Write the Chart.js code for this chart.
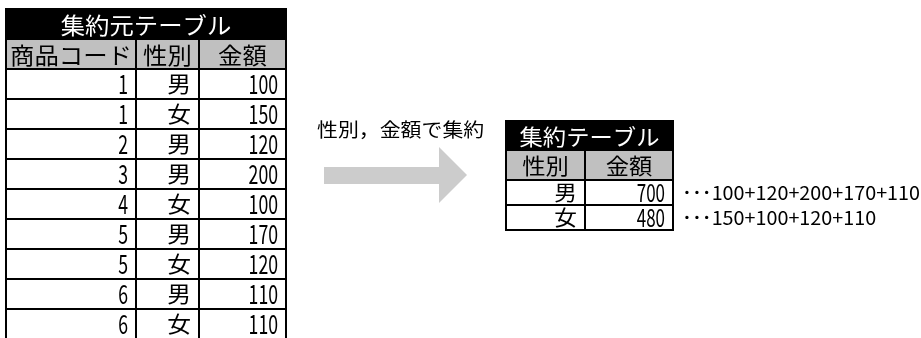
<!DOCTYPE html>
<html>
<head>
<meta charset="utf-8">
<script src="https://cdn.jsdelivr.net/npm/chart.js@4.4.1/dist/chart.umd.min.js"></script>
<style>
  html, body { margin: 0; padding: 0; background: #ffffff; }
  canvas { display: block; }
</style>
</head>
<body>
<canvas id="summary_chart" width="921" height="338"></canvas>
<script>
// source table
const source_title = '集約元テーブル';
const source_headers = ['商品コード', '性別', '金額'];
const product_codes = [1, 1, 2, 3, 4, 5, 5, 6, 6];
const genders = ['男', '女', '男', '男', '女', '男', '女', '男', '女'];
const amounts = [100, 150, 120, 200, 100, 170, 120, 110, 110];

// summary table
const summary_title = '集約テーブル';
const summary_headers = ['性別', '金額'];
const summary_genders = ['男', '女'];
const summary_totals = [700, 480];

const arrow_label = '性別，金額で集約';

const font_family = '"Noto Sans CJK JP", "Noto Sans", sans-serif';

function draw_text(ctx, text, x, y, size, align, scale_x) {
	ctx.save();
	ctx.font = size + 'px ' + font_family;
	ctx.textBaseline = 'middle';
	ctx.translate(x, y);
	ctx.scale(scale_x, 1);
	const w = ctx.measureText(text).width;
	let dx = 0;
	if (align === 'right') dx = -w;
	if (align === 'center') dx = -w / 2;
	ctx.fillText(text, dx, 0);
	ctx.restore();
}

// digits in the reference are tall and narrow, CJK glyphs are slightly wide
function cell_text(ctx, text, x, y, align, cjk_size) {
	const s = String(text);
	if (/^[0-9]+$/.test(s)) {
		draw_text(ctx, s, x, y, cjk_size + 4, align, 0.68);
	} else {
		draw_text(ctx, s, x, y, cjk_size, align, 1.08);
	}
}

function draw_table(ctx, sx, sy, cols, rows, title, headers, body, size) {
	const X = v => sx.getPixelForValue(v);
	const Y = v => sy.getPixelForValue(v);
	const left = X(cols[0]), right = X(cols[cols.length - 1]);
	const top = Y(rows[0]), bottom = Y(rows[rows.length - 1]);

	// title bar
	ctx.fillStyle = '#000000';
	ctx.fillRect(left, top, right - left, Y(rows[1]) - top);
	// header row
	ctx.fillStyle = '#c0c0c0';
	ctx.fillRect(left, Y(rows[1]), right - left, Y(rows[2]) - Y(rows[1]));

	// grid
	ctx.strokeStyle = '#000000';
	ctx.lineWidth = 2;
	ctx.beginPath();
	for (let r = 1; r < rows.length; r++) {
		ctx.moveTo(left, Y(rows[r]));
		ctx.lineTo(right, Y(rows[r]));
	}
	for (let c = 1; c < cols.length - 1; c++) {
		ctx.moveTo(X(cols[c]), Y(rows[1]));
		ctx.lineTo(X(cols[c]), bottom);
	}
	ctx.rect(left, top, right - left, bottom - top);
	ctx.stroke();

	// texts
	ctx.fillStyle = '#ffffff';
	draw_text(ctx, title, (left + right) / 2, (top + Y(rows[1])) / 2 + 1, size, 'center', 1.06);
	ctx.fillStyle = '#000000';
	headers.forEach((h, c) => {
		const cx = (X(cols[c]) + X(cols[c + 1])) / 2;
		draw_text(ctx, h, cx, (Y(rows[1]) + Y(rows[2])) / 2 + 1, size, 'center', 1.06);
	});
	body.forEach((row, r) => {
		const cy = (Y(rows[r + 2]) + Y(rows[r + 3])) / 2;
		row.forEach((v, c) => {
			cell_text(ctx, v, X(cols[c + 1]) - 8, cy, 'right', size - 1);
		});
	});
}

const table_plugin = {
	id: 'table_plugin',
	afterDraw(chart) {
		const ctx = chart.ctx;
		const sx = chart.scales.x, sy = chart.scales.y;
		const X = v => sx.getPixelForValue(v);
		const Y = v => sy.getPixelForValue(v);

		// source table, its last row runs past the bottom edge
		const src_rows = [9];
		for (let i = 0; i < product_codes.length + 2; i++) src_rows.push(src_rows[i] + 30);
		const src_body = product_codes.map((code, i) => [code, genders[i], amounts[i]]);
		draw_table(ctx, sx, sy, [6, 136, 199, 286], src_rows, source_title, source_headers, src_body, 23);

		// summary table
		const sum_body = summary_genders.map((g, i) => [g, summary_totals[i]]);
		draw_table(ctx, sx, sy, [506, 585, 673], [121, 150, 180, 205, 230], summary_title, summary_headers, sum_body, 22);

		// breakdown notes, built from the source values
		ctx.fillStyle = '#000000';
		summary_genders.forEach((g, i) => {
			const parts = amounts.filter((a, k) => genders[k] === g);
			draw_text(ctx, '･･･' + parts.join('+'), X(682), Y(193 + i * 25), 19, 'left', 1.04);
		});

		// arrow
		ctx.fillStyle = '#cccccc';
		ctx.beginPath();
		ctx.moveTo(X(324), Y(167));
		ctx.lineTo(X(439), Y(167));
		ctx.lineTo(X(439), Y(147));
		ctx.lineTo(X(467), Y(175));
		ctx.lineTo(X(439), Y(203));
		ctx.lineTo(X(439), Y(184));
		ctx.lineTo(X(324), Y(184));
		ctx.closePath();
		ctx.fill();

		ctx.fillStyle = '#000000';
		draw_text(ctx, arrow_label, X(317), Y(130), 19, 'left', 1.1);
	}
};

const summary_chart = new Chart(
		document.getElementById('summary_chart').getContext('2d'),
		{
			type: 'scatter',
			data: {
				datasets: [{
						data: [],
						pointRadius: 0
					}]
			},
			options: {
				responsive: false,
				animation: false,
				devicePixelRatio: 1,
				layout: {
					padding: 0
				},
				scales: {
					x: {
						type: 'linear',
						display: false,
						min: 0,
						max: 921
					},
					y: {
						type: 'linear',
						display: false,
						reverse: true,
						min: 0,
						max: 338
					}
				},
				plugins: {
					legend: {
						display: false
					},
					tooltip: {
						enabled: false
					}
				}
			},
			plugins: [table_plugin],
		}
);
</script>
</body>
</html>
